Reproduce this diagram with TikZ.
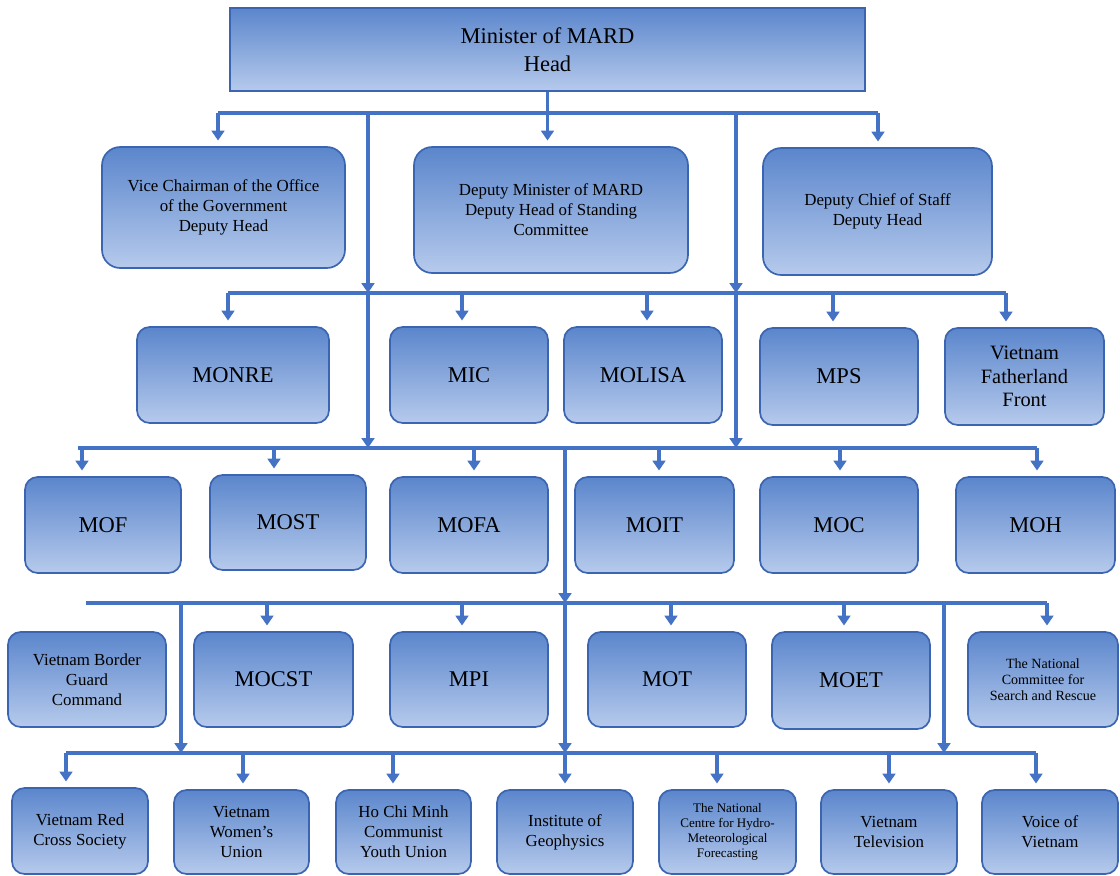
\documentclass[tikz,border=0pt]{standalone}
\usepackage{fontspec}
\setmainfont{Liberation Serif}
\usetikzlibrary{arrows.meta}

\definecolor{lineblue}{RGB}{68,114,196}
\definecolor{edgeblue}{RGB}{59,101,176}
\definecolor{topblue}{RGB}{91,134,204}
\definecolor{botblue}{RGB}{182,202,236}

\tikzset{
  unit/.style={draw=edgeblue, line width=1.2pt, top color=topblue,
    bottom color=botblue, rounded corners=9pt, inner sep=0pt, align=center},
  area/.style args={#1/#2/#3/#4}{at={({(#1+#3)/2},{(#2+#4)/2})},
    minimum width={(#3-#1)*0.025cm}, minimum height={(#4-#2)*0.025cm}},
  txtbig/.style={font=\fontsize{16}{19.5}\selectfont},
  txtfront/.style={font=\fontsize{14.5}{16.5}\selectfont},
  txtmid/.style={font=\fontsize{12}{14.2}\selectfont},
  txtsmall/.style={font=\fontsize{10}{11.3}\selectfont},
  txtsmaller/.style={font=\fontsize{9.3}{10.6}\selectfont},
  link/.style={draw=lineblue, line width=2.3pt},
  pass/.style={link, -{Triangle[length=7pt,width=9pt]}},
  drop/.style={pass, shorten >=4pt},
}

\begin{document}
\begin{tikzpicture}[x=0.025cm,y=-0.025cm]
\useasboundingbox (0,0) rectangle (1120,876);
%head
\node[unit, sharp corners, txtbig, area=230/8/865/91] (minister)
     {Minister of MARD\\Head};
%deputies
\node[unit, rounded corners=13pt, txtmid, area=102/147/345/268] (vice)
     {Vice Chairman of the Office\\of the Government\\Deputy Head};
\node[unit, rounded corners=13pt, txtmid, area=414/147/688/273] (dmin)
     {Deputy Minister of MARD\\Deputy Head of Standing\\Committee};
\node[unit, rounded corners=13pt, txtmid, area=763/148/992/275] (dchief)
     {Deputy Chief of Staff\\Deputy Head};
%second row
\node[unit, txtbig, area=137/327/329/423] (monre) {MONRE};
\node[unit, txtbig, area=390/327/548/423] (mic) {MIC};
\node[unit, txtbig, area=564/327/722/423] (molisa) {MOLISA};
\node[unit, txtbig, area=760/328/918/425] (mps) {MPS};
\node[unit, txtfront, area=945/328/1104/425] (vff)
     {Vietnam\\Fatherland\\Front};
%third row
\node[unit, txtbig, area=25/477/181/573] (mof) {MOF};
\node[unit, txtbig, area=210/475/366/570] (most) {MOST};
\node[unit, txtbig, area=390/477/548/573] (mofa) {MOFA};
\node[unit, txtbig, area=575/477/734/573] (moit) {MOIT};
\node[unit, txtbig, area=760/477/918/573] (moc) {MOC};
\node[unit, txtbig, area=956/477/1115/573] (moh) {MOH};
%fourth row
\node[unit, txtmid, area=8/632/166/727] (border)
     {Vietnam Border\\Guard\\Command};
\node[unit, txtbig, area=194/632/353/727] (mocst) {MOCST};
\node[unit, txtbig, area=390/632/548/727] (mpi) {MPI};
\node[unit, txtbig, area=588/632/746/727] (mot) {MOT};
\node[unit, txtbig, area=772/632/930/729] (moet) {MOET};
\node[unit, txtsmall, area=968/632/1118/727] (ncsr)
     {The National\\Committee for\\Search and Rescue};
%fifth row
\node[unit, txtmid, area=12/788/148/874] (redcross)
     {Vietnam Red\\Cross Society};
\node[unit, txtmid, area=174/790/309/874] (women)
     {Vietnam\\Women's\\Union};
\node[unit, txtmid, area=336/790/471/874] (hcm)
     {Ho Chi Minh\\Communist\\Youth Union};
\node[unit, txtmid, area=497/790/633/874] (geo)
     {Institute of\\Geophysics};
\node[unit, txtsmaller, area=659/790/796/874] (hydro)
     {The National\\Centre for Hydro-\\Meteorological\\Forecasting};
\node[unit, txtmid, area=821/790/957/874] (vtv)
     {Vietnam\\Television};
\node[unit, txtmid, area=982/790/1118/874] (vov)
     {Voice of\\Vietnam};

%bars
\coordinate (b1w) at (218,113);  \coordinate (b1e) at (878,113);
\coordinate (b2w) at (228,293);  \coordinate (b2e) at (1006,293);
\coordinate (b3w) at (78,448);   \coordinate (b3e) at (1037,448);
\coordinate (b4w) at (86,603);   \coordinate (b4e) at (1047,603);
\coordinate (b5w) at (66,753);   \coordinate (b5e) at (1036,753);
\foreach \i in {1,...,5}
{
  \draw[link] (b\i w) -- (b\i e);
}
\draw[link] (minister.south) -- (minister.south |- b1w);
\draw[drop] (minister.south) -- (minister.south |- dmin.north);
%drops to boxes
\foreach \n/\x in {vice/218, dchief/878}
  \draw[drop] (b1w -| \x,0) -- (\n.north -| \x,0);
\foreach \n/\x in {monre/228, mic/462, molisa/647, mps/833, vff/1006}
  \draw[drop] (b2w -| \x,0) -- (\n.north -| \x,0);
\foreach \n/\x in {mof/82, most/274, mofa/474, moit/659, moc/840, moh/1037}
  \draw[drop] (b3w -| \x,0) -- (\n.north -| \x,0);
\foreach \n/\x in {mocst/267, mpi/462, mot/671, moet/844, ncsr/1047}
  \draw[drop] (b4w -| \x,0) -- (\n.north -| \x,0);
\foreach \n/\x in {redcross/66, women/243, hcm/393, geo/565, hydro/717,
                   vtv/889, vov/1036}
  \draw[drop] (b5w -| \x,0) -- (\n.north -| \x,0);
%bar to bar
\foreach \x in {368,736}
{
  \draw[pass] (b1w -| \x,0) -- (b2w -| \x,0);
  \draw[pass] (b2w -| \x,0) -- (b3w -| \x,0);
}
\draw[pass] (b3w -| 565,0) -- (b4w -| 565,0);
\foreach \x in {181,565,944}
  \draw[pass] (b4w -| \x,0) -- (b5w -| \x,0);
\end{tikzpicture}
\end{document}
